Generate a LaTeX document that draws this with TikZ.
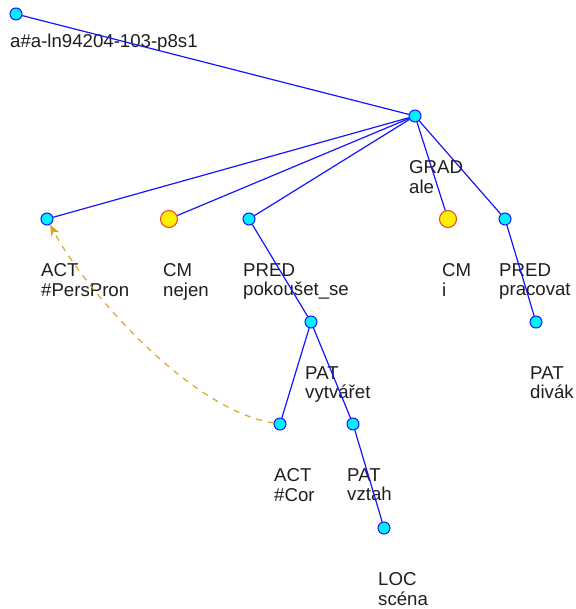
\documentclass[tikz,border=0pt]{standalone}
\usepackage{fontspec}
\setmainfont{Liberation Sans}
\usetikzlibrary{arrows.meta}
\definecolor{nodecyan}{RGB}{0,240,255}
\definecolor{edgeblue}{RGB}{20,20,255}
\definecolor{coref}{RGB}{218,165,32}
\definecolor{cmred}{RGB}{240,60,40}
\definecolor{txt}{RGB}{30,30,30}
\tikzset{
  tnode/.style={circle,fill=nodecyan,draw=edgeblue,line width=1bp,minimum size=12bp,inner sep=0pt},
  cmnode/.style={circle,fill=yellow,draw=cmred,line width=1bp,minimum size=17bp,inner sep=0pt},
  lbl/.style={anchor=north west,inner sep=0pt,align=left,text=txt,font=\fontsize{18.7}{20}\selectfont},
  edge/.style={draw=edgeblue,line width=1.2bp},
  corefarrow/.style={draw=coref,line width=1.2bp,dash pattern=on 6bp off 6bp,-{Stealth[length=11bp,width=9bp,inset=3bp]}}
}
\begin{document}
\begin{tikzpicture}[x=1bp,y=-1bp]
\useasboundingbox (0,0) rectangle (576,609);
% nodes
\node[tnode] (root) at (16,14) {};
\node[tnode] (grad) at (415,116) {};
\node[tnode] (act) at (47,219) {};
\node[cmnode] (cm1) at (169,219) {};
\node[tnode] (pred1) at (249,219) {};
\node[cmnode] (cm2) at (448,219) {};
\node[tnode] (pred2) at (505,219) {};
\node[tnode] (pat1) at (311,322) {};
\node[tnode] (pat2) at (536,322) {};
\node[tnode] (cor) at (280,424) {};
\node[tnode] (pat3) at (353,424) {};
\node[tnode] (loc) at (384,528) {};
% labels
\node[lbl] (lroot) at (10,34) {a\#a-ln94204-103-p8s1};
\node[lbl] (lgrad) at (409,160) {GRAD\\ale};
\node[lbl] (lact) at (41,263) {ACT\\\#PersPron};
\node[lbl] (lcm1) at (163,263) {CM\\nejen};
\node[lbl] (lpred1) at (243,263) {PRED\\pokoušet\_se};
\node[lbl] (lcm2) at (442,263) {CM\\i};
\node[lbl] (lpred2) at (499,263) {PRED\\pracovat};
\node[lbl] (lpat1) at (305,366) {PAT\\vytvářet};
\node[lbl] (lpat2) at (530,366) {PAT\\divák};
\node[lbl] (lcor) at (274,468) {ACT\\\#Cor};
\node[lbl] (lpat3) at (347,468) {PAT\\vztah};
\node[lbl] (lloc) at (378,572) {LOC\\scéna};
% edges
\draw[edge] (root) -- (grad);
\draw[edge] (grad) -- (act);
\draw[edge] (grad) -- (cm1);
\draw[edge] (grad) -- (pred1);
\draw[edge] (grad) -- (cm2);
\draw[edge] (grad) -- (pred2);
\draw[edge] (pred1) -- (pat1);
\draw[edge] (pred2) -- (pat2);
\draw[edge] (pat1) -- (cor);
\draw[edge] (pat1) -- (pat3);
\draw[edge] (pat3) -- (loc);
% coreference
\draw[corefarrow] (cor) .. controls (190,410) and (85,290) .. (act);
\end{tikzpicture}
\end{document}
